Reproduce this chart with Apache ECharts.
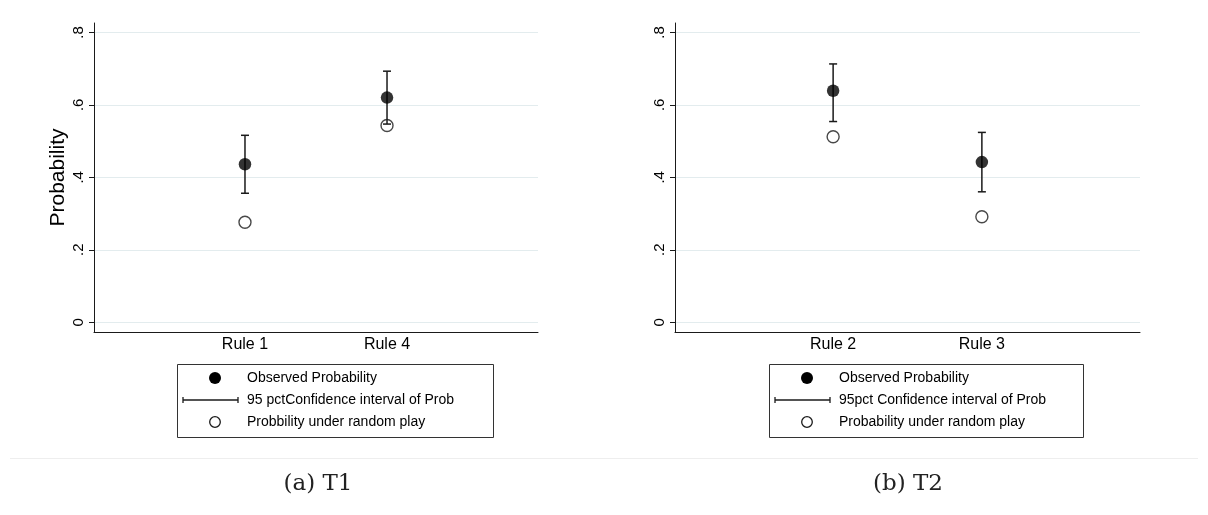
<!DOCTYPE html>
<html>
<head>
<meta charset="utf-8">
<script src="https://cdn.jsdelivr.net/npm/echarts@6/dist/echarts.min.js"></script>
<style>
  html, body { margin: 0; padding: 0; background: #fff; }
  #chart { width: 1208px; height: 515px; }
</style>
</head>
<body>
<div id="chart"></div>
<script>
// Panel (a) T1
const categoriesT1 = ['Rule 1', 'Rule 4'];
const observedT1 = [0.436, 0.620];
const ciLowT1 = [0.356, 0.547];
const ciHighT1 = [0.516, 0.693];
const randomT1 = [0.276, 0.543];
const legendT1 = ['Observed Probability', '95 pctConfidence interval of Prob', 'Probbility under random play'];

// Panel (b) T2
const categoriesT2 = ['Rule 2', 'Rule 3'];
const observedT2 = [0.639, 0.442];
const ciLowT2 = [0.554, 0.360];
const ciHighT2 = [0.713, 0.524];
const randomT2 = [0.512, 0.291];
const legendT2 = ['Observed Probability', '95pct Confidence interval of Prob', 'Probability under random play'];

// Shared axis ticks and captions
const yTickValues = [0, 0.2, 0.4, 0.6, 0.8];
const yTickLabels = ['0', '.2', '.4', '.6', '.8'];
const yAxisTitle = 'Probability';
const captions = ['(a) T1', '(b) T2'];

const SANS = 'Liberation Sans, Arial, Helvetica, sans-serif';
const INK = '#1a1a1a';

const chart = echarts.init(document.getElementById('chart'), null, { renderer: 'canvas' });

function yLabel(v) {
  const i = yTickValues.findIndex(t => Math.abs(t - v) < 1e-9);
  return i >= 0 ? yTickLabels[i] : '';
}

// Vertical interval with short caps at both ends
function renderCI(params, api) {
  const x = api.value(0);
  const top = api.coord([x, api.value(2)]);
  const bot = api.coord([x, api.value(1)]);
  const w = 4;
  const style = { stroke: INK, lineWidth: 1.5 };
  return {
    type: 'group',
    children: [
      { type: 'line', shape: { x1: top[0], y1: top[1], x2: bot[0], y2: bot[1] }, style },
      { type: 'line', shape: { x1: top[0] - w, y1: top[1], x2: top[0] + w, y2: top[1] }, style },
      { type: 'line', shape: { x1: bot[0] - w, y1: bot[1], x2: bot[0] + w, y2: bot[1] }, style }
    ]
  };
}

const grids = [
  { left: 94, top: 23, width: 444, height: 309 },
  { left: 675, top: 23, width: 465, height: 309 }
];

const panels = [
  { cats: categoriesT1, obs: observedT1, lo: ciLowT1, hi: ciHighT1, rnd: randomT1, legend: legendT1 },
  { cats: categoriesT2, obs: observedT2, lo: ciLowT2, hi: ciHighT2, rnd: randomT2, legend: legendT2 }
];

const xAxes = panels.map((p, i) => ({
  gridIndex: i,
  type: 'value',
  min: -0.063,
  max: 3.063,
  axisLine: { show: true, onZero: false, lineStyle: { color: INK, width: 1 } },
  axisTick: { show: false },
  splitLine: { show: false },
  axisLabel: {
    customValues: p.cats.map((c, k) => k + 1),
    formatter: v => p.cats[Math.round(v) - 1] || '',
    fontSize: 16,
    color: '#000',
    fontFamily: SANS,
    margin: 5
  }
}));

const yAxes = panels.map((p, i) => ({
  gridIndex: i,
  type: 'value',
  min: -0.027,
  max: 0.826,
  name: i === 0 ? yAxisTitle : '',
  nameLocation: 'middle',
  nameGap: 25,
  nameTextStyle: { fontSize: 21, color: '#000', fontFamily: SANS },
  axisLine: { show: true, onZero: false, lineStyle: { color: INK, width: 1 } },
  axisTick: { show: true, customValues: yTickValues, length: 5, lineStyle: { color: INK, width: 1 } },
  axisLabel: {
    customValues: yTickValues,
    formatter: yLabel,
    rotate: 90,
    fontSize: 15,
    color: '#000',
    fontFamily: SANS,
    margin: 8
  },
  splitLine: { show: true, lineStyle: { color: '#e3ecee', width: 1.2 } }
}));

const series = [];
panels.forEach((p, i) => {
  series.push({
    name: p.legend[2],
    type: 'scatter',
    xAxisIndex: i, yAxisIndex: i,
    symbol: 'circle',
    symbolSize: 12,
    itemStyle: { color: '#fff', borderColor: INK, borderWidth: 1.4 },
    data: p.rnd.map((v, k) => [k + 1, v]),
    z: 2
  });
  series.push({
    name: p.legend[1],
    type: 'custom',
    xAxisIndex: i, yAxisIndex: i,
    renderItem: renderCI,
    encode: { x: 0, y: [1, 2] },
    data: p.lo.map((v, k) => [k + 1, v, p.hi[k]]),
    z: 3
  });
  series.push({
    name: p.legend[0],
    type: 'scatter',
    xAxisIndex: i, yAxisIndex: i,
    symbol: 'circle',
    symbolSize: 12.5,
    itemStyle: { color: '#000' },
    data: p.obs.map((v, k) => [k + 1, v]),
    z: 4
  });
});

// Legend boxes drawn below each panel
function legendBox(x0, w, labels) {
  const top = 364, h = 73;
  const rows = [378, 400, 422];
  const iconL = x0 + 6, iconR = x0 + 61, iconC = x0 + 38, textX = x0 + 70;
  const style = { stroke: INK, lineWidth: 1.3 };
  return [
    { type: 'rect', shape: { x: x0 + 0.5, y: top + 0.5, width: w, height: h }, style: { fill: '#fff', stroke: '#333', lineWidth: 1 } },
    { type: 'circle', shape: { cx: iconC, cy: rows[0], r: 6 }, style: { fill: '#000' } },
    { type: 'line', shape: { x1: iconL, y1: rows[1], x2: iconR, y2: rows[1] }, style },
    { type: 'line', shape: { x1: iconL, y1: rows[1] - 3, x2: iconL, y2: rows[1] + 3 }, style },
    { type: 'line', shape: { x1: iconR, y1: rows[1] - 3, x2: iconR, y2: rows[1] + 3 }, style },
    { type: 'circle', shape: { cx: iconC, cy: rows[2], r: 5.3 }, style: { fill: '#fff', stroke: INK, lineWidth: 1.3 } },
    ...labels.map((t, k) => ({
      type: 'text',
      x: textX, y: rows[k],
      style: { text: t, fontSize: 14, fill: '#000', fontFamily: SANS, verticalAlign: 'middle', align: 'left' }
    }))
  ];
}

const graphic = [
  ...legendBox(177, 316, legendT1),
  ...legendBox(769, 314, legendT2),
  { type: 'line', shape: { x1: 10, y1: 458.5, x2: 1198, y2: 458.5 }, style: { stroke: '#eeeeee', lineWidth: 1 } },
  { type: 'text', x: 318, y: 484, style: { text: captions[0], fontSize: 23, fill: '#222', fontFamily: 'DejaVu Serif, serif', align: 'center', verticalAlign: 'middle' } },
  { type: 'text', x: 908, y: 484, style: { text: captions[1], fontSize: 23, fill: '#222', fontFamily: 'DejaVu Serif, serif', align: 'center', verticalAlign: 'middle' } }
];

chart.setOption({
  animation: false,
  backgroundColor: '#fff',
  grid: grids,
  xAxis: xAxes,
  yAxis: yAxes,
  series: series,
  graphic: graphic
});
</script>
</body>
</html>
